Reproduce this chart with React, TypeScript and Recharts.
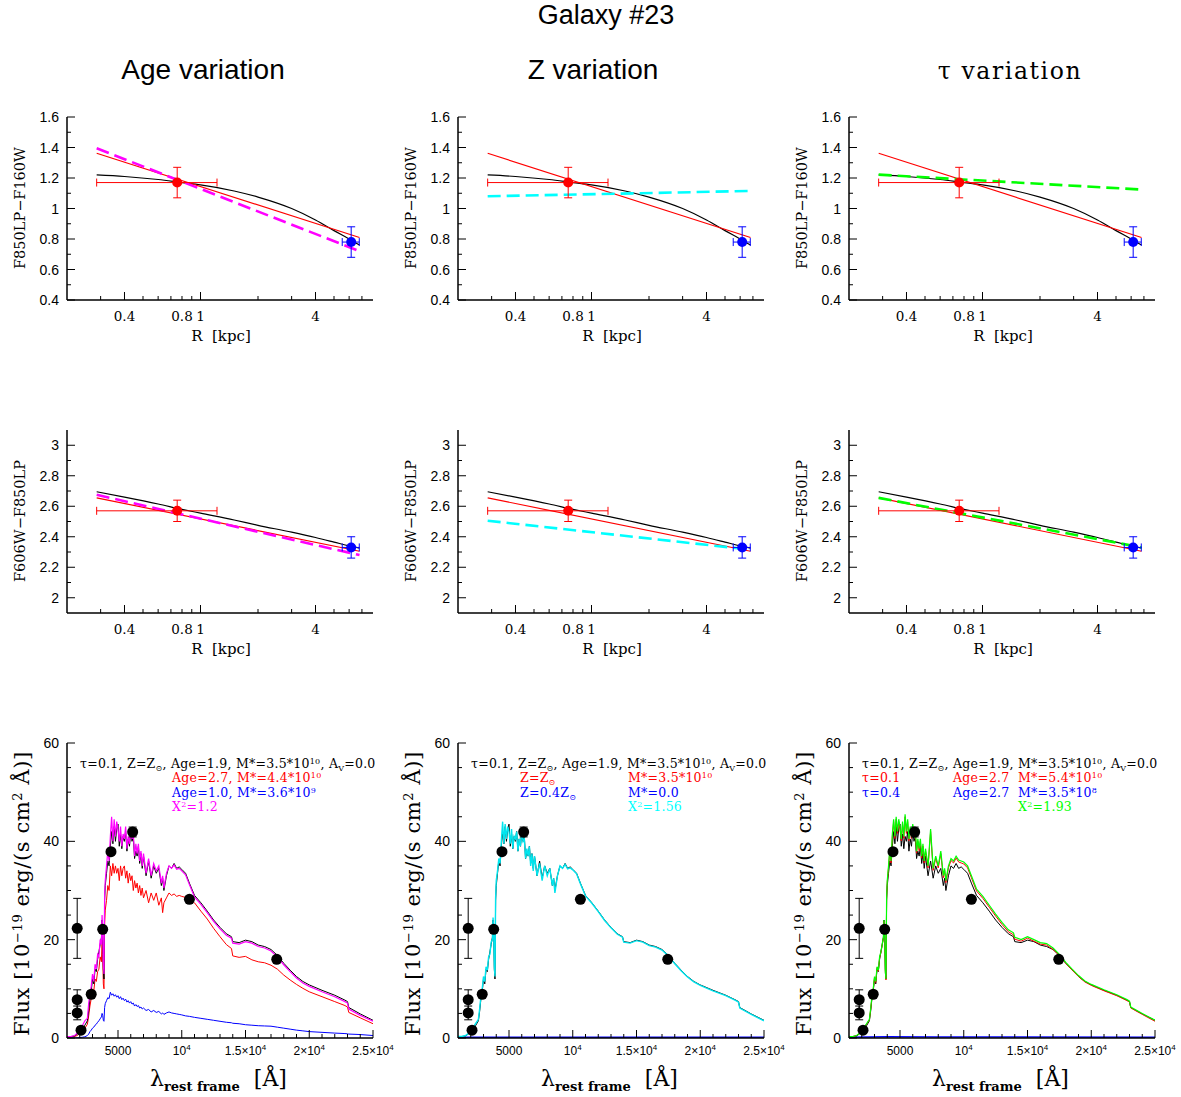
import React from "react";
import { ComposedChart, Line, Scatter, ErrorBar, XAxis, YAxis } from "recharts";

const SERIF = '"DejaVu Serif", serif';
const SANS = '"Liberation Sans", Arial, sans-serif';

// ---------------------------------------------------------------------------
// Radial colour profiles (top two rows)
// ---------------------------------------------------------------------------

const R_MODEL = [0.286, 0.4, 0.6, 0.8, 1, 1.5, 2, 3, 4, 5, 6, 6.8];
const IZ_BEST = [1.22, 1.21, 1.19, 1.17, 1.155, 1.115, 1.075, 1.0, 0.925, 0.855, 0.8, 0.76];
const VI_BEST = [2.695, 2.66, 2.615, 2.58, 2.555, 2.51, 2.475, 2.43, 2.395, 2.365, 2.34, 2.325];

const R_ENDS = [0.286, 6.8];
const IZ_FIT = [1.362, 0.81];
const IZ_AGE = [1.395, 0.72];
const IZ_Z = [1.08, 1.115];
const IZ_TAU = [1.222, 1.124];
const VI_FIT = [2.655, 2.305];
const VI_AGE = [2.675, 2.28];
const VI_Z = [2.505, 2.315];
const VI_TAU = [2.655, 2.33];

// observed inner (red) and outer (blue) points
const OBS_R = [0.755, 6.15];
const OBS_R_LO = [0.469, 0.63];
const OBS_R_HI = [0.465, 0.63];
const OBS_IZ = [1.17, 0.78];
const OBS_IZ_ERR = [0.1, 0.1];
const OBS_VI = [2.57, 2.33];
const OBS_VI_ERR = [0.07, 0.07];

const R_DOMAIN = [0.2, 8];
const R_TICKS = [0.3, 0.4, 0.5, 0.6, 0.7, 0.8, 0.9, 1, 2, 3, 4, 5, 6, 7];
const R_MAJOR = [0.4, 1, 4];
const R_LABELS = [0.4, 0.8, 1, 4];

const IZ_TICKS = [0.4, 0.5, 0.6, 0.7, 0.8, 0.9, 1, 1.1, 1.2, 1.3, 1.4, 1.5, 1.6];
const IZ_LABELS = [0.4, 0.6, 0.8, 1, 1.2, 1.4, 1.6];
const VI_TICKS = [2, 2.1, 2.2, 2.3, 2.4, 2.5, 2.6, 2.7, 2.8, 2.9, 3];
const VI_LABELS = [2, 2.2, 2.4, 2.6, 2.8, 3];

// ---------------------------------------------------------------------------
// SEDs (bottom row)
// ---------------------------------------------------------------------------

const WAVE = [
  1000, 1300, 1600, 1800, 2000, 2200, 2400, 2600, 2700, 2800,
  2900, 3000, 3100, 3200, 3300, 3400, 3500, 3600, 3700, 3750,
  3800, 3850, 3900, 3950, 4000, 4100, 4200, 4300, 4400, 4500,
  4600, 4700, 4800, 4900, 5000, 5100, 5200, 5300, 5400, 5500,
  5600, 5700, 5800, 5900, 6000, 6100, 6200, 6300, 6400, 6500,
  6600, 6700, 6800, 6900, 7000, 7200, 7400, 7600, 7800, 8000,
  8200, 8400, 8500, 8600, 8800, 9000, 9200, 9400, 9600, 9800,
  10000, 10300, 10600, 11000, 11500, 12000, 12500, 13000, 13500, 13900,
  14000, 14500, 15000, 15500, 16000, 16500, 17000, 17500, 18000, 18500,
  19000, 19500, 20000, 21000, 22000, 22800, 23000, 23100, 24000, 25000,
];

const SED_BEST = [
  0.3, 0.3, 0.4, 0.8, 1.2, 1.8, 2.6, 3.5, 5.5, 8.0,
  9.5, 12.0, 11.0, 14.0, 13.5, 16.0, 17.5, 19.0, 20.5, 24.0,
  21.0, 14.0, 12.0, 28.0, 31.0, 33.5, 36.0, 35.0, 39.0, 42.0,
  39.5, 43.0, 40.0, 42.5, 43.5, 39.0, 41.5, 38.5, 41.0, 40.0,
  42.0, 38.0, 40.5, 39.0, 42.0, 40.0, 41.0, 36.5, 38.0, 37.0,
  39.0, 35.5, 37.5, 34.5, 37.0, 33.0, 36.0, 32.5, 35.0, 33.5,
  34.5, 31.0, 32.5, 30.0, 33.0, 35.0, 34.5, 35.5, 34.5, 34.8,
  34.3, 33.5, 31.5, 29.0, 27.5, 25.8, 24.0, 22.5, 21.2, 20.6,
  19.6, 19.4, 19.9, 19.6, 18.9, 18.6, 18.0, 16.8, 15.2, 13.8,
  12.5, 11.5, 10.8, 9.7, 8.7, 7.7, 7.4, 6.2, 4.9, 3.6,
];

const SED_AGE_MIX = [
  0.3, 0.3, 0.5, 1.0, 1.8, 2.5, 3.5, 4.0, 7.0, 9.0,
  10.5, 13.0, 11.5, 15.0, 14.0, 17.0, 16.5, 20.0, 19.0, 25.0,
  22.0, 15.0, 13.0, 29.0, 32.0, 35.0, 38.0, 36.0, 41.0, 45.0,
  40.0, 44.5, 41.0, 44.0, 42.5, 40.0, 43.0, 39.0, 41.5, 40.5,
  43.0, 38.5, 41.0, 39.5, 42.5, 40.5, 41.5, 37.0, 39.5, 37.5,
  39.5, 36.0, 38.0, 35.0, 37.5, 33.5, 36.5, 33.0, 35.5, 34.0,
  35.0, 31.5, 33.0, 30.5, 33.5, 35.0, 34.5, 35.2, 34.3, 34.5,
  34.0, 33.2, 31.2, 28.7, 27.2, 25.5, 23.7, 22.2, 20.9, 20.3,
  19.3, 19.1, 19.6, 19.3, 18.6, 18.3, 17.7, 16.5, 14.9, 13.5,
  12.2, 11.2, 10.5, 9.4, 8.4, 7.4, 7.1, 5.9, 4.6, 3.4,
];

const SED_AGE_OLD = [
  0.2, 0.2, 0.3, 0.5, 0.9, 1.4, 2.0, 2.8, 4.5, 6.5,
  8.0, 10.0, 9.5, 12.0, 11.5, 13.5, 14.0, 16.5, 15.5, 20.0,
  17.0, 11.0, 10.0, 23.0, 26.0, 28.0, 31.0, 30.0, 35.0, 33.0,
  35.5, 33.5, 35.0, 33.5, 34.5, 32.0, 35.0, 33.0, 34.5, 35.0,
  32.5, 34.0, 31.5, 33.5, 32.0, 33.0, 30.0, 32.0, 30.5, 31.5,
  29.5, 31.0, 29.0, 30.5, 28.5, 30.0, 27.5, 29.5, 28.0, 29.5,
  27.0, 28.5, 25.5, 27.5, 28.5, 29.5, 29.0, 29.3, 28.8, 29.0,
  28.8, 28.6, 28.3, 27.5, 25.8, 24.2, 22.3, 20.6, 19.0, 18.2,
  16.7, 16.4, 16.6, 15.9, 15.5, 15.3, 14.8, 14.0, 12.8, 11.8,
  10.9, 10.1, 9.4, 8.4, 7.4, 6.6, 6.3, 5.2, 4.1, 2.9,
];

const SED_AGE_YOUNG = [
  0, 0, 0, 0.05, 0.1, 0.15, 0.25, 0.5, 0.8, 1.3,
  1.6, 2.0, 2.2, 2.6, 2.8, 3.2, 3.5, 3.9, 4.3, 5.0,
  4.6, 3.6, 3.4, 6.2, 7.0, 7.6, 8.2, 8.0, 9.3, 8.7,
  9.0, 8.5, 8.8, 8.3, 8.6, 8.0, 8.4, 7.8, 8.1, 7.6,
  7.9, 7.3, 7.6, 7.1, 7.4, 6.9, 7.1, 6.5, 6.8, 6.4,
  6.6, 6.1, 6.3, 5.9, 6.1, 5.6, 5.8, 5.3, 5.6, 5.2,
  5.4, 4.9, 5.1, 4.8, 5.1, 5.3, 5.1, 5.0, 4.9, 4.8,
  4.7, 4.5, 4.4, 4.2, 4.0, 3.8, 3.6, 3.4, 3.2, 3.1,
  3.0, 2.9, 2.7, 2.6, 2.5, 2.45, 2.4, 2.2, 2.0, 1.8,
  1.6, 1.45, 1.3, 1.15, 1.0, 0.9, 0.85, 0.8, 0.7, 0.5,
];

const SED_Z_MIX = [
  0.3, 0.3, 0.5, 0.9, 1.5, 2.2, 3.0, 3.8, 6.0, 8.5,
  10.0, 12.5, 11.5, 14.5, 13.8, 16.5, 17.0, 19.5, 20.0, 24.5,
  21.5, 14.5, 12.5, 28.5, 32.0, 34.0, 36.5, 35.5, 40.0, 44.0,
  39.5, 43.5, 40.5, 43.0, 42.0, 39.5, 42.5, 38.5, 41.0, 40.5,
  42.0, 38.0, 40.5, 39.0, 42.0, 40.0, 40.5, 36.5, 38.5, 37.0,
  39.0, 35.0, 37.5, 34.0, 37.0, 33.0, 35.5, 32.0, 35.0, 33.0,
  34.5, 31.0, 32.5, 29.5, 33.0, 35.0, 34.5, 35.3, 34.4, 34.6,
  34.2, 33.4, 31.4, 28.9, 27.4, 25.7, 23.9, 22.4, 21.1, 20.5,
  19.5, 19.3, 19.8, 19.5, 18.8, 18.5, 17.9, 16.7, 15.1, 13.7,
  12.4, 11.4, 10.7, 9.6, 8.6, 7.6, 7.3, 6.1, 4.8, 3.5,
];

const SED_TAU_MIX = [
  0.3, 0.3, 0.5, 0.9, 1.5, 2.2, 3.0, 3.8, 6.0, 8.5,
  10.0, 12.5, 11.5, 14.5, 13.8, 16.5, 17.5, 19.0, 20.5, 24.0,
  21.0, 13.5, 12.0, 28.5, 32.0, 35.0, 38.5, 36.0, 41.5, 44.5,
  41.0, 45.0, 42.0, 44.5, 43.0, 40.5, 44.0, 41.0, 45.5, 42.0,
  44.5, 40.5, 43.0, 41.0, 43.5, 41.5, 42.5, 38.0, 40.5, 38.5,
  40.5, 37.0, 39.5, 36.0, 38.5, 35.0, 42.5, 34.5, 37.0, 35.0,
  38.0, 33.0, 34.5, 32.0, 35.0, 36.5, 36.0, 37.0, 36.2, 36.0,
  35.8, 35.0, 33.0, 30.3, 28.8, 27.0, 25.2, 23.5, 22.0, 21.4,
  20.5, 20.0, 20.6, 20.0, 19.4, 19.2, 18.3, 17.0, 15.4, 14.0,
  12.7, 11.6, 10.9, 9.8, 8.8, 7.8, 7.5, 6.3, 5.0, 3.6,
];

const SED_TAU_OLD = [
  0.3, 0.3, 0.5, 0.9, 1.4, 2.1, 2.9, 3.7, 5.8, 8.3,
  9.8, 12.3, 11.3, 14.3, 13.6, 16.3, 17.3, 18.8, 20.3, 23.8,
  20.8, 13.3, 11.8, 28.2, 31.7, 34.6, 38.0, 35.6, 41.0, 44.0,
  40.6, 44.5, 41.6, 44.0, 42.6, 40.1, 43.5, 40.6, 45.0, 41.6,
  44.0, 40.1, 42.6, 40.6, 43.0, 41.1, 42.0, 37.6, 40.0, 38.1,
  40.0, 36.6, 39.0, 35.6, 38.0, 34.6, 42.0, 34.1, 36.6, 34.6,
  37.5, 32.6, 34.1, 31.6, 34.6, 36.1, 35.6, 36.6, 35.8, 35.6,
  35.4, 34.6, 32.6, 29.9, 28.4, 26.6, 24.8, 23.1, 21.6, 21.0,
  20.1, 19.7, 20.3, 19.7, 19.1, 18.9, 18.0, 16.8, 15.2, 13.8,
  12.5, 11.4, 10.7, 9.6, 8.6, 7.6, 7.3, 6.1, 4.8, 3.4,
];

const WAVE_EDGE = [1000, 4000, 8000, 25000];
const SED_ZERO = [0.15, 0.15, 0.15, 0.15];
const SED_TINY = [0.15, 0.25, 0.22, 0.15];

// photometry, shared by the three SED panels
const PHOT_WAVE = [1800, 1800, 1800, 2100, 2900, 3800, 4450, 6150, 10600, 17450];
const PHOT_FLUX = [22.3, 7.8, 5.1, 1.6, 8.9, 22.1, 37.9, 41.9, 28.2, 16.0];
const PHOT_ERR = [6.1, 2.0, 1.4, 0.4, 0.5, 0.5, 0.5, 1.0, 0.5, 0.5];

const LAM_DOMAIN = [1000, 25000];
const LAM_TICKS = [
  2000, 3000, 4000, 5000, 6000, 7000, 8000, 9000, 10000, 11000, 12000, 13000,
  14000, 15000, 16000, 17000, 18000, 19000, 20000, 21000, 22000, 23000, 24000, 25000,
];
const LAM_LABELS = [5000, 10000, 15000, 20000, 25000];
const LAM_LABEL_BASE = ["5000", "10", "1.5×10", "2×10", "2.5×10"];
const LAM_LABEL_EXP = ["", "4", "4", "4", "4"];
const FLUX_TICKS = [0, 5, 10, 15, 20, 25, 30, 35, 40, 45, 50, 55, 60];
const FLUX_LABELS = [0, 20, 40, 60];

const COLS = [0, 391, 782];

// ---------------------------------------------------------------------------
// helpers
// ---------------------------------------------------------------------------

const pairs = (xs: number[], ys: number[]) => xs.map((x, i) => ({ x, y: ys[i] }));

type Side = "bottom" | "top" | "left" | "right";

function makeTick(
  side: Side,
  majors: number[],
  label?: (v: number) => React.ReactNode,
  font?: { family: string; size: number; dy: number }
) {
  return (props: any) => {
    const { x, y, payload } = props;
    const v = payload.value;
    const len = majors.includes(v) ? 8 : 4;
    const c =
      side === "bottom" ? [x, y, x, y - len]
      : side === "top" ? [x, y, x, y + len]
      : side === "left" ? [x, y, x + len, y]
      : [x, y, x - len, y];
    const txt = label ? label(v) : null;
    return (
      <g>
        <line x1={c[0]} y1={c[1]} x2={c[2]} y2={c[3]} stroke="#000" strokeWidth={1} />
        {txt != null && font && (
          side === "bottom" ? (
            <text x={x} y={y + font.dy} textAnchor="middle" fontFamily={font.family} fontSize={font.size} fill="#000">
              {txt}
            </text>
          ) : (
            <text x={x - 8} y={y + font.dy} textAnchor="end" fontFamily={font.family} fontSize={font.size} fill="#000">
              {txt}
            </text>
          )
        )}
      </g>
    );
  };
}

const FRAME = { stroke: "#000", strokeWidth: 1.5 };

const rLabel = (v: number) => (R_LABELS.includes(v) ? String(v) : null);
const pickLabel = (list: number[]) => (v: number) => (list.includes(v) ? String(v) : null);
const lamLabel = (v: number) => {
  const i = LAM_LABELS.indexOf(v);
  if (i < 0) return null;
  if (!LAM_LABEL_EXP[i]) return LAM_LABEL_BASE[i];
  return (
    <>
      {LAM_LABEL_BASE[i]}
      <tspan baselineShift={5} fontSize={8}>{LAM_LABEL_EXP[i]}</tspan>
    </>
  );
};

const dot = (color: string, r: number) => (p: any) => <circle cx={p.cx} cy={p.cy} r={r} fill={color} />;

// ---------------------------------------------------------------------------
// colour-profile panel
// ---------------------------------------------------------------------------

interface ColourPanelProps {
  left: number;
  top: number;
  yDomain: number[];
  yTicks: number[];
  yLabels: number[];
  best: number[];
  fit: number[];
  variant: number[];
  variantColor: string;
  obsY: number[];
  obsErr: number[];
}

function ColourPanel(p: ColourPanelProps) {
  const majorsY = p.yLabels;
  const red = [{ x: OBS_R[0], y: p.obsY[0], ex: [OBS_R_LO[0], OBS_R_HI[0]], ey: p.obsErr[0] }];
  const blue = [{ x: OBS_R[1], y: p.obsY[1], ex: [OBS_R_LO[1], OBS_R_HI[1]], ey: p.obsErr[1] }];
  return (
    <div style={{ position: "absolute", left: p.left, top: p.top }}>
      <ComposedChart width={390} height={250} margin={{ top: 17, right: 17, bottom: 0, left: 0 }}>
        <XAxis
          dataKey="x" type="number" scale="log" domain={R_DOMAIN} allowDataOverflow
          ticks={R_TICKS} interval={0} height={50} tickSize={0} tickMargin={0} tickLine={false}
          axisLine={FRAME}
          tick={makeTick("bottom", R_MAJOR, rLabel, { family: SERIF, size: 13.5, dy: 21 })}
        />
        <XAxis
          xAxisId="top" orientation="top" type="number" scale="log" domain={R_DOMAIN} allowDataOverflow
          ticks={R_TICKS} interval={0} height={0} tickSize={0} tickMargin={0} tickLine={false}
          axisLine={FRAME} tick={makeTick("top", R_MAJOR)}
        />
        <YAxis
          dataKey="y" type="number" domain={p.yDomain} allowDataOverflow ticks={p.yTicks} interval={0}
          width={67} tickSize={0} tickMargin={0} tickLine={false} axisLine={FRAME}
          tick={makeTick("left", majorsY, pickLabel(p.yLabels), { family: SANS, size: 14, dy: 5 })}
        />
        <YAxis
          yAxisId="right" orientation="right" type="number" domain={p.yDomain} allowDataOverflow
          ticks={p.yTicks} interval={0} width={0} tickSize={0} tickMargin={0} tickLine={false}
          axisLine={FRAME} tick={makeTick("right", majorsY)}
        />
        <Line data={pairs(R_MODEL, p.best)} dataKey="y" type="monotone" stroke="#000" strokeWidth={1.2} dot={false} isAnimationActive={false} />
        <Line data={pairs(R_ENDS, p.fit)} dataKey="y" type="linear" stroke="#ff0000" strokeWidth={1.2} dot={false} isAnimationActive={false} />
        <Line data={pairs(R_ENDS, p.variant)} dataKey="y" type="linear" stroke={p.variantColor} strokeWidth={2.6} strokeDasharray="13 6" dot={false} isAnimationActive={false} />
        <Scatter data={red} fill="#ff0000" shape={dot("#ff0000", 5)} isAnimationActive={false}>
          <ErrorBar dataKey="ey" direction="y" width={4} stroke="#ff0000" strokeWidth={1} />
          <ErrorBar dataKey="ex" direction="x" width={4} stroke="#ff0000" strokeWidth={1} />
        </Scatter>
        <Scatter data={blue} fill="#0000ff" shape={dot("#0000ff", 5)} isAnimationActive={false}>
          <ErrorBar dataKey="ey" direction="y" width={4} stroke="#0000ff" strokeWidth={1} />
          <ErrorBar dataKey="ex" direction="x" width={4} stroke="#0000ff" strokeWidth={1} />
        </Scatter>
      </ComposedChart>
    </div>
  );
}

// ---------------------------------------------------------------------------
// SED panel
// ---------------------------------------------------------------------------

interface SedLine {
  x: number[];
  y: number[];
  color: string;
  width?: number;
}

function SedPanel({ left, lines }: { left: number; lines: SedLine[] }) {
  const phot = PHOT_WAVE.map((x, i) => ({ x, y: PHOT_FLUX[i], ey: PHOT_ERR[i] }));
  return (
    <div style={{ position: "absolute", left, top: 726 }}>
      <ComposedChart width={390} height={340} margin={{ top: 17, right: 17, bottom: 0, left: 0 }}>
        <XAxis
          dataKey="x" type="number" domain={LAM_DOMAIN} allowDataOverflow ticks={LAM_TICKS} interval={0}
          height={28} tickSize={0} tickMargin={0} tickLine={false} axisLine={FRAME}
          tick={makeTick("bottom", LAM_LABELS, lamLabel, { family: SANS, size: 12, dy: 17 })}
        />
        <XAxis
          xAxisId="top" orientation="top" type="number" domain={LAM_DOMAIN} allowDataOverflow ticks={LAM_TICKS}
          interval={0} height={0} tickSize={0} tickMargin={0} tickLine={false} axisLine={FRAME}
          tick={makeTick("top", LAM_LABELS)}
        />
        <YAxis
          dataKey="y" type="number" domain={[0, 60]} allowDataOverflow ticks={FLUX_TICKS} interval={0}
          width={67} tickSize={0} tickMargin={0} tickLine={false} axisLine={FRAME}
          tick={makeTick("left", FLUX_LABELS, pickLabel(FLUX_LABELS), { family: SANS, size: 14, dy: 5 })}
        />
        <YAxis
          yAxisId="right" orientation="right" type="number" domain={[0, 60]} allowDataOverflow ticks={FLUX_TICKS}
          interval={0} width={0} tickSize={0} tickMargin={0} tickLine={false} axisLine={FRAME}
          tick={makeTick("right", FLUX_LABELS)}
        />
        {lines.map((l, i) => (
          <Line
            key={i} data={pairs(l.x, l.y)} dataKey="y" type="linear" stroke={l.color} strokeWidth={l.width ?? 1}
            dot={false} isAnimationActive={false}
          />
        ))}
        <Scatter data={phot} fill="#000" shape={dot("#000", 5.5)} isAnimationActive={false}>
          <ErrorBar dataKey="ey" direction="y" width={4} stroke="#000" strokeWidth={1} />
        </Scatter>
      </ComposedChart>
    </div>
  );
}

// ---------------------------------------------------------------------------
// text overlay
// ---------------------------------------------------------------------------

const Sup = ({ children, size = 8 }: { children: React.ReactNode; size?: number }) => (
  <tspan baselineShift={size * 0.55} fontSize={size}>{children}</tspan>
);
const Sub = ({ children, size = 8 }: { children: React.ReactNode; size?: number }) => (
  <tspan baselineShift={-3} fontSize={size}>{children}</tspan>
);

const LEG = { fontFamily: SERIF, fontSize: 12.5, letterSpacing: 0.25 };

function Overlay() {
  const rowLabels = [
    { y: 341, ylab: "F850LP\u2212F160W", ymid: 208 },
    { y: 654, ylab: "F606W\u2212F850LP", ymid: 521 },
  ];
  return (
    <svg width={1181} height={1097} style={{ position: "absolute", left: 0, top: 0, pointerEvents: "none" }}>
      <text x={606} y={24} textAnchor="middle" fontFamily={SANS} fontSize={27}>Galaxy #23</text>
      <text x={203} y={79} textAnchor="middle" fontFamily={SANS} fontSize={28}>Age variation</text>
      <text x={593} y={79} textAnchor="middle" fontFamily={SANS} fontSize={28}>Z variation</text>
      <text x={1010} y={79} textAnchor="middle" fontFamily={SERIF} fontSize={23.5} letterSpacing={1.6}>τ variation</text>

      {COLS.map((c) =>
        rowLabels.map((r) => (
          <g key={`${c}-${r.y}`}>
            <text x={c + 221} y={r.y} textAnchor="middle" fontFamily={SERIF} fontSize={15} xmlSpace="preserve">
              R  [kpc]
            </text>
            <text
              x={c + 25} y={r.ymid} textAnchor="middle" fontFamily={SERIF} fontSize={14.5}
              transform={`rotate(-90 ${c + 25} ${r.ymid})`}
            >
              {r.ylab}
            </text>
          </g>
        ))
      )}

      {COLS.map((c) => (
        <g key={`sed-${c}`}>
          <text
            x={c + 29} y={1036} fontFamily={SERIF} fontSize={21} letterSpacing={0.6}
            transform={`rotate(-90 ${c + 29} 1036)`} xmlSpace="preserve"
          >
            Flux [10<Sup size={13}>−19</Sup> erg/(s cm<Sup size={13}>2</Sup> Å)]
          </text>
          <text x={c + 150} y={1086} fontFamily={SERIF} fontSize={22} xmlSpace="preserve">
            λ<tspan baselineShift={-5} fontSize={13} fontWeight="bold">rest frame</tspan>{"  [Å]"}
          </text>
          <text x={c + 80} y={768} {...LEG} fill="#000">
            τ=0.1, Z=Z<Sub>⊙</Sub>, Age=1.9, M*=3.5*10<Sup>10</Sup>, A<Sub>V</Sub>=0.0
          </text>
        </g>
      ))}

      {/* Age variation legend */}
      <text x={172} y={782} {...LEG} fill="#ff0000">Age=2.7, M*=4.4*10<Sup>10</Sup></text>
      <text x={172} y={797} {...LEG} fill="#0000ff">Age=1.0, M*=3.6*10<Sup>9</Sup></text>
      <text x={172} y={811} {...LEG} fill="#ff00ff">X<Sup>2</Sup>=1.2</text>

      {/* Z variation legend */}
      <text x={520} y={782} {...LEG} fill="#ff0000">Z=Z<Sub>⊙</Sub></text>
      <text x={628} y={782} {...LEG} fill="#ff0000">M*=3.5*10<Sup>10</Sup></text>
      <text x={520} y={797} {...LEG} fill="#0000ff">Z=0.4Z<Sub>⊙</Sub></text>
      <text x={628} y={797} {...LEG} fill="#0000ff">M*=0.0</text>
      <text x={628} y={811} {...LEG} fill="#00ffff">X<Sup>2</Sup>=1.56</text>

      {/* tau variation legend */}
      <text x={862} y={782} {...LEG} fill="#ff0000">τ=0.1</text>
      <text x={953} y={782} {...LEG} fill="#ff0000">Age=2.7</text>
      <text x={1018} y={782} {...LEG} fill="#ff0000">M*=5.4*10<Sup>10</Sup></text>
      <text x={862} y={797} {...LEG} fill="#0000ff">τ=0.4</text>
      <text x={953} y={797} {...LEG} fill="#0000ff">Age=2.7</text>
      <text x={1018} y={797} {...LEG} fill="#0000ff">M*=3.5*10<Sup>8</Sup></text>
      <text x={1018} y={811} {...LEG} fill="#00ff00">X<Sup>2</Sup>=1.93</text>
    </svg>
  );
}

// ---------------------------------------------------------------------------
// page
// ---------------------------------------------------------------------------

export default function App() {
  return (
    <div style={{ position: "absolute", left: 0, top: 0, width: 1181, height: 1097, background: "#fff" }}>
      <style>{".recharts-surface{overflow:visible}"}</style>

      <ColourPanel left={COLS[0]} top={100} yDomain={[0.4, 1.6]} yTicks={IZ_TICKS} yLabels={IZ_LABELS}
        best={IZ_BEST} fit={IZ_FIT} variant={IZ_AGE} variantColor="#ff00ff" obsY={OBS_IZ} obsErr={OBS_IZ_ERR} />
      <ColourPanel left={COLS[1]} top={100} yDomain={[0.4, 1.6]} yTicks={IZ_TICKS} yLabels={IZ_LABELS}
        best={IZ_BEST} fit={IZ_FIT} variant={IZ_Z} variantColor="#00ffff" obsY={OBS_IZ} obsErr={OBS_IZ_ERR} />
      <ColourPanel left={COLS[2]} top={100} yDomain={[0.4, 1.6]} yTicks={IZ_TICKS} yLabels={IZ_LABELS}
        best={IZ_BEST} fit={IZ_FIT} variant={IZ_TAU} variantColor="#00ff00" obsY={OBS_IZ} obsErr={OBS_IZ_ERR} />

      <ColourPanel left={COLS[0]} top={413} yDomain={[1.9, 3.1]} yTicks={VI_TICKS} yLabels={VI_LABELS}
        best={VI_BEST} fit={VI_FIT} variant={VI_AGE} variantColor="#ff00ff" obsY={OBS_VI} obsErr={OBS_VI_ERR} />
      <ColourPanel left={COLS[1]} top={413} yDomain={[1.9, 3.1]} yTicks={VI_TICKS} yLabels={VI_LABELS}
        best={VI_BEST} fit={VI_FIT} variant={VI_Z} variantColor="#00ffff" obsY={OBS_VI} obsErr={OBS_VI_ERR} />
      <ColourPanel left={COLS[2]} top={413} yDomain={[1.9, 3.1]} yTicks={VI_TICKS} yLabels={VI_LABELS}
        best={VI_BEST} fit={VI_FIT} variant={VI_TAU} variantColor="#00ff00" obsY={OBS_VI} obsErr={OBS_VI_ERR} />

      <SedPanel
        left={COLS[0]}
        lines={[
          { x: WAVE, y: SED_AGE_OLD, color: "#ff0000" },
          { x: WAVE, y: SED_AGE_YOUNG, color: "#0000ff" },
          { x: WAVE, y: SED_BEST, color: "#000000" },
          { x: WAVE, y: SED_AGE_MIX, color: "#ff00ff", width: 1.2 },
        ]}
      />
      <SedPanel
        left={COLS[1]}
        lines={[
          { x: WAVE_EDGE, y: SED_ZERO, color: "#0000ff", width: 1.5 },
          { x: WAVE, y: SED_BEST, color: "#000000" },
          { x: WAVE, y: SED_Z_MIX, color: "#00e5ee", width: 1.4 },
        ]}
      />
      <SedPanel
        left={COLS[2]}
        lines={[
          { x: WAVE_EDGE, y: SED_TINY, color: "#0000ff", width: 1.5 },
          { x: WAVE, y: SED_BEST, color: "#000000" },
          { x: WAVE, y: SED_TAU_OLD, color: "#ff0000" },
          { x: WAVE, y: SED_TAU_MIX, color: "#00ff00", width: 1.2 },
        ]}
      />

      <Overlay />
    </div>
  );
}
